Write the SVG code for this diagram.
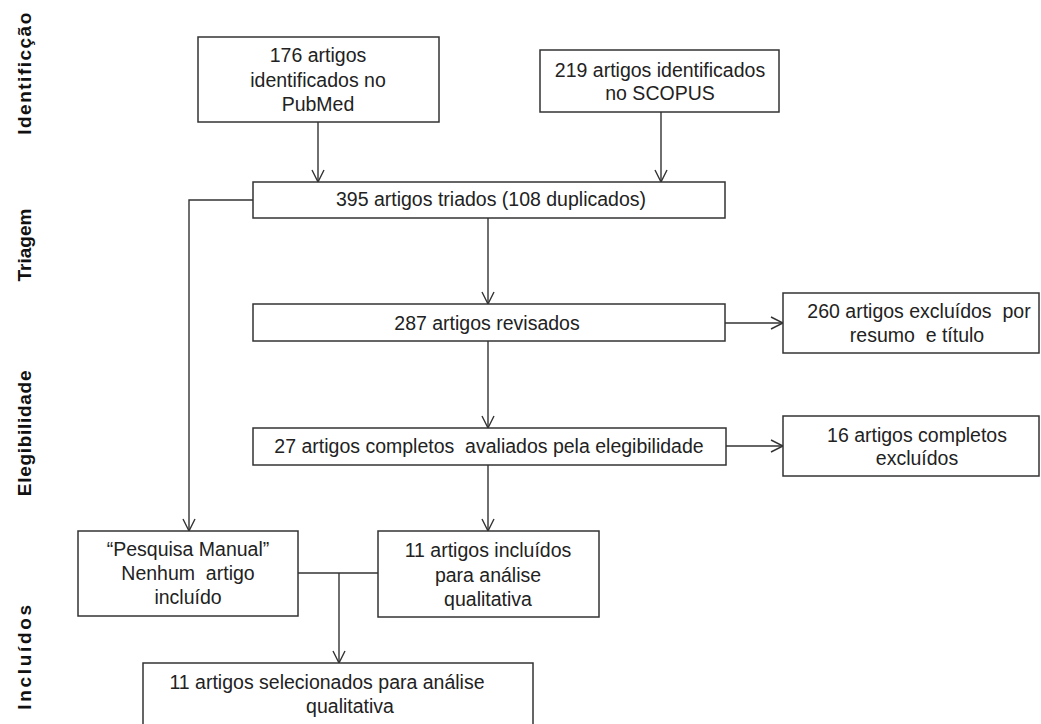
<svg xmlns="http://www.w3.org/2000/svg" width="1041" height="724" viewBox="0 0 1041 724">
<style>
.box{fill:#fff;stroke:#333;stroke-width:1.5}
.t{font-family:"Liberation Sans",Arial,sans-serif;font-size:19.5px;fill:#222;text-anchor:middle;white-space:pre}
.side{font-family:"Liberation Sans",Arial,sans-serif;font-size:19px;font-weight:bold;fill:#111;text-anchor:middle}
.c{fill:none;stroke:#333;stroke-width:1.4}
</style>
<defs>
<marker id="arr" markerUnits="userSpaceOnUse" markerWidth="16" markerHeight="16" refX="13" refY="7" orient="auto" viewBox="0 0 16 14">
<path d="M1,1 L13,7 L1,13" fill="none" stroke="#333" stroke-width="1.4"/>
</marker>
</defs>
<rect width="1041" height="724" fill="#fff"/>
<g id="labels">
<text class="side" transform="translate(31,73) rotate(-90)" style="letter-spacing:1.5px">Identificção</text>
<text class="side" transform="translate(31,245) rotate(-90)">Triagem</text>
<text class="side" transform="translate(31,433) rotate(-90)" style="letter-spacing:0.7px">Elegibilidade</text>
<text class="side" transform="translate(31,656) rotate(-90)" style="letter-spacing:2.7px">Incluídos</text>
</g>
<g id="connectors">
<line class="c" x1="318" y1="122" x2="318" y2="182" marker-end="url(#arr)"/>
<line class="c" x1="661" y1="112" x2="661" y2="182" marker-end="url(#arr)"/>
<polyline class="c" points="253,200 189,200 189,531" marker-end="url(#arr)"/>
<line class="c" x1="488" y1="218" x2="488" y2="304" marker-end="url(#arr)"/>
<line class="c" x1="725" y1="323" x2="783" y2="323" marker-end="url(#arr)"/>
<line class="c" x1="488" y1="341" x2="488" y2="428" marker-end="url(#arr)"/>
<line class="c" x1="726" y1="446" x2="783" y2="446" marker-end="url(#arr)"/>
<line class="c" x1="488" y1="465" x2="488" y2="531" marker-end="url(#arr)"/>
<line class="c" x1="298" y1="573" x2="378" y2="573"/>
<line class="c" x1="339" y1="573" x2="339" y2="663" marker-end="url(#arr)"/>
</g>
<g id="pubmed">
<rect class="box" x="198" y="37" width="241" height="85"/>
<text class="t" x="318" y="62">176 artigos</text>
<text class="t" x="318" y="87">identificados no</text>
<text class="t" x="318" y="111">PubMed</text>
</g>
<g id="scopus">
<rect class="box" x="540" y="50" width="239" height="62"/>
<text class="t" x="660" y="77">219 artigos identificados</text>
<text class="t" x="660" y="100">no SCOPUS</text>
</g>
<g id="triados">
<rect class="box" x="253" y="182" width="472" height="36"/>
<text class="t" x="491" y="206">395 artigos triados (108 duplicados)</text>
</g>
<g id="revisados">
<rect class="box" x="253" y="304" width="472" height="37"/>
<text class="t" x="487" y="330">287 artigos revisados</text>
</g>
<g id="excluidos260">
<rect class="box" x="783" y="293" width="256" height="60"/>
<text class="t" x="919" y="318">260 artigos excluídos  por</text>
<text class="t" x="917" y="342">resumo  e título</text>
</g>
<g id="completos">
<rect class="box" x="253" y="428" width="473" height="37"/>
<text class="t" x="489" y="453">27 artigos completos  avaliados pela elegibilidade</text>
</g>
<g id="excluidos16">
<rect class="box" x="783" y="416" width="256" height="60"/>
<text class="t" x="917" y="442">16 artigos completos</text>
<text class="t" x="917" y="465">excluídos</text>
</g>
<g id="manual">
<rect class="box" x="78" y="531" width="220" height="85"/>
<text class="t" x="188" y="556">“Pesquisa Manual”</text>
<text class="t" x="188" y="580">Nenhum  artigo</text>
<text class="t" x="188" y="604">incluído</text>
</g>
<g id="incluidos">
<rect class="box" x="378" y="531" width="221" height="86"/>
<text class="t" x="488" y="557">11 artigos incluídos</text>
<text class="t" x="488" y="582">para análise</text>
<text class="t" x="488" y="606">qualitativa</text>
</g>
<g id="selecionados">
<rect class="box" x="143" y="663" width="390" height="70"/>
<text class="t" x="327" y="689">11 artigos selecionados para análise</text>
<text class="t" x="350" y="713">qualitativa</text>
</g>
</svg>
